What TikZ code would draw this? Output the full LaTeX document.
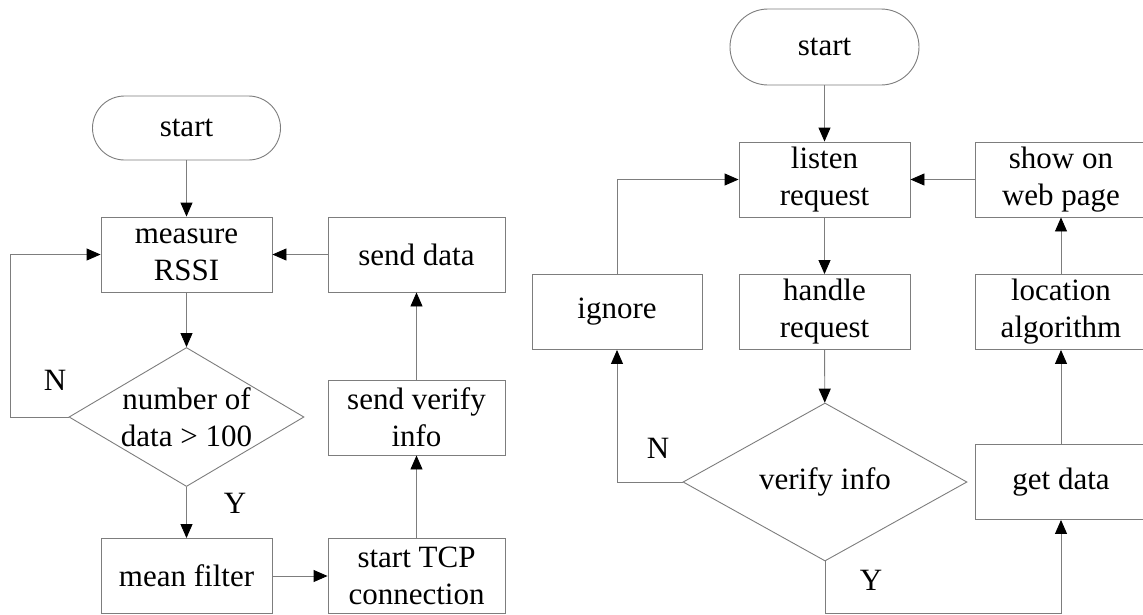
\documentclass[tikz,border=0pt]{standalone}
\usepackage{fontspec}
\setmainfont{Liberation Serif}
\usepackage{tikz}
\usetikzlibrary{positioning,shapes.geometric,arrows.meta}
\definecolor{linegray}{RGB}{125,125,125}

\begin{document}
\begin{tikzpicture}[x=1pt, y=-1pt, font=\fontsize{31}{37}\selectfont,
  box/.style={draw=linegray, line width=0.9pt, align=center, inner sep=0pt, minimum width=171pt, minimum height=75pt},
  terminal/.style={draw=linegray, line width=0.9pt, inner sep=0pt},
  decision/.style={draw=linegray, line width=0.9pt, diamond, inner sep=0pt},
  flow/.style={draw=linegray, line width=0.9pt, -{Triangle[length=14pt,width=12pt,black]}},
  yn/.style={inner sep=2pt}]
\useasboundingbox (0,0) rectangle (1143,614);

% client side
\node[terminal, minimum width=188pt, minimum height=64pt, rounded corners=32pt] (startL) at (186.5,128) {start};
\node[box] (measure) at (186.5,254.5) {measure\\RSSI};
\node[decision, minimum width=235pt, minimum height=139pt, label={[align=center]center:number of\\data > 100}] (numdata) at (186.5,417) {};
\node[box] (mean) at (186.5,576) {mean filter};
\node[box, minimum width=177pt] (tcp) at (416.5,576) {start TCP\\connection};
\node[box, minimum width=177pt] (sendverify) at (416.5,417.5) {send verify\\info};
\node[box, minimum width=177pt] (senddata) at (416.5,254.5) {send data};
\node[yn] (nL) at (55,380) {N};
\node[yn] (yL) at (235,503) {Y};

\draw[flow] (startL) -- (measure);
\draw[flow] (measure) -- (numdata);
\draw[flow] (numdata.west) -- ++(-58,0) |- (measure.west);
\draw[flow] (numdata) -- (mean);
\draw[flow] (mean) -- (tcp);
\draw[flow] (tcp) -- (sendverify);
\draw[flow] (sendverify) -- (senddata);
\draw[flow] (senddata) -- (measure);

% server side
\node[terminal, minimum width=189pt, minimum height=76pt, rounded corners=38pt] (startR) at (824.5,47) {start};
\node[box] (listen) at (824.5,179.5) {listen\\request};
\node[box] (handle) at (824.5,312) {handle\\request};
\node[decision, minimum width=284pt, minimum height=158pt, label={center:verify info}] (verify) at (825,482) {};
\node[box, minimum width=170pt] (ignore) at (617,312) {ignore};
\node[box] (getdata) at (1061,482) {get data};
\node[box] (location) at (1061,312) {location\\algorithm};
\node[box] (webpage) at (1061,179.5) {show on\\web page};
\node[yn] (nR) at (658,448) {N};
\node[yn] (yR) at (871,580) {Y};

\draw[flow] (startR) -- (listen);
\draw[flow] (listen) -- (handle);
\draw[flow] (handle) -- (verify);
\draw[flow] (verify.west) -| (ignore.south);
\draw[flow] (ignore.north) |- (listen.west);
\draw[flow] (verify.south) -- ++(0,52) -| (getdata.south);
\draw[flow] (getdata) -- (location);
\draw[flow] (location) -- (webpage);
\draw[flow] (webpage) -- (listen);
\end{tikzpicture}
\end{document}
